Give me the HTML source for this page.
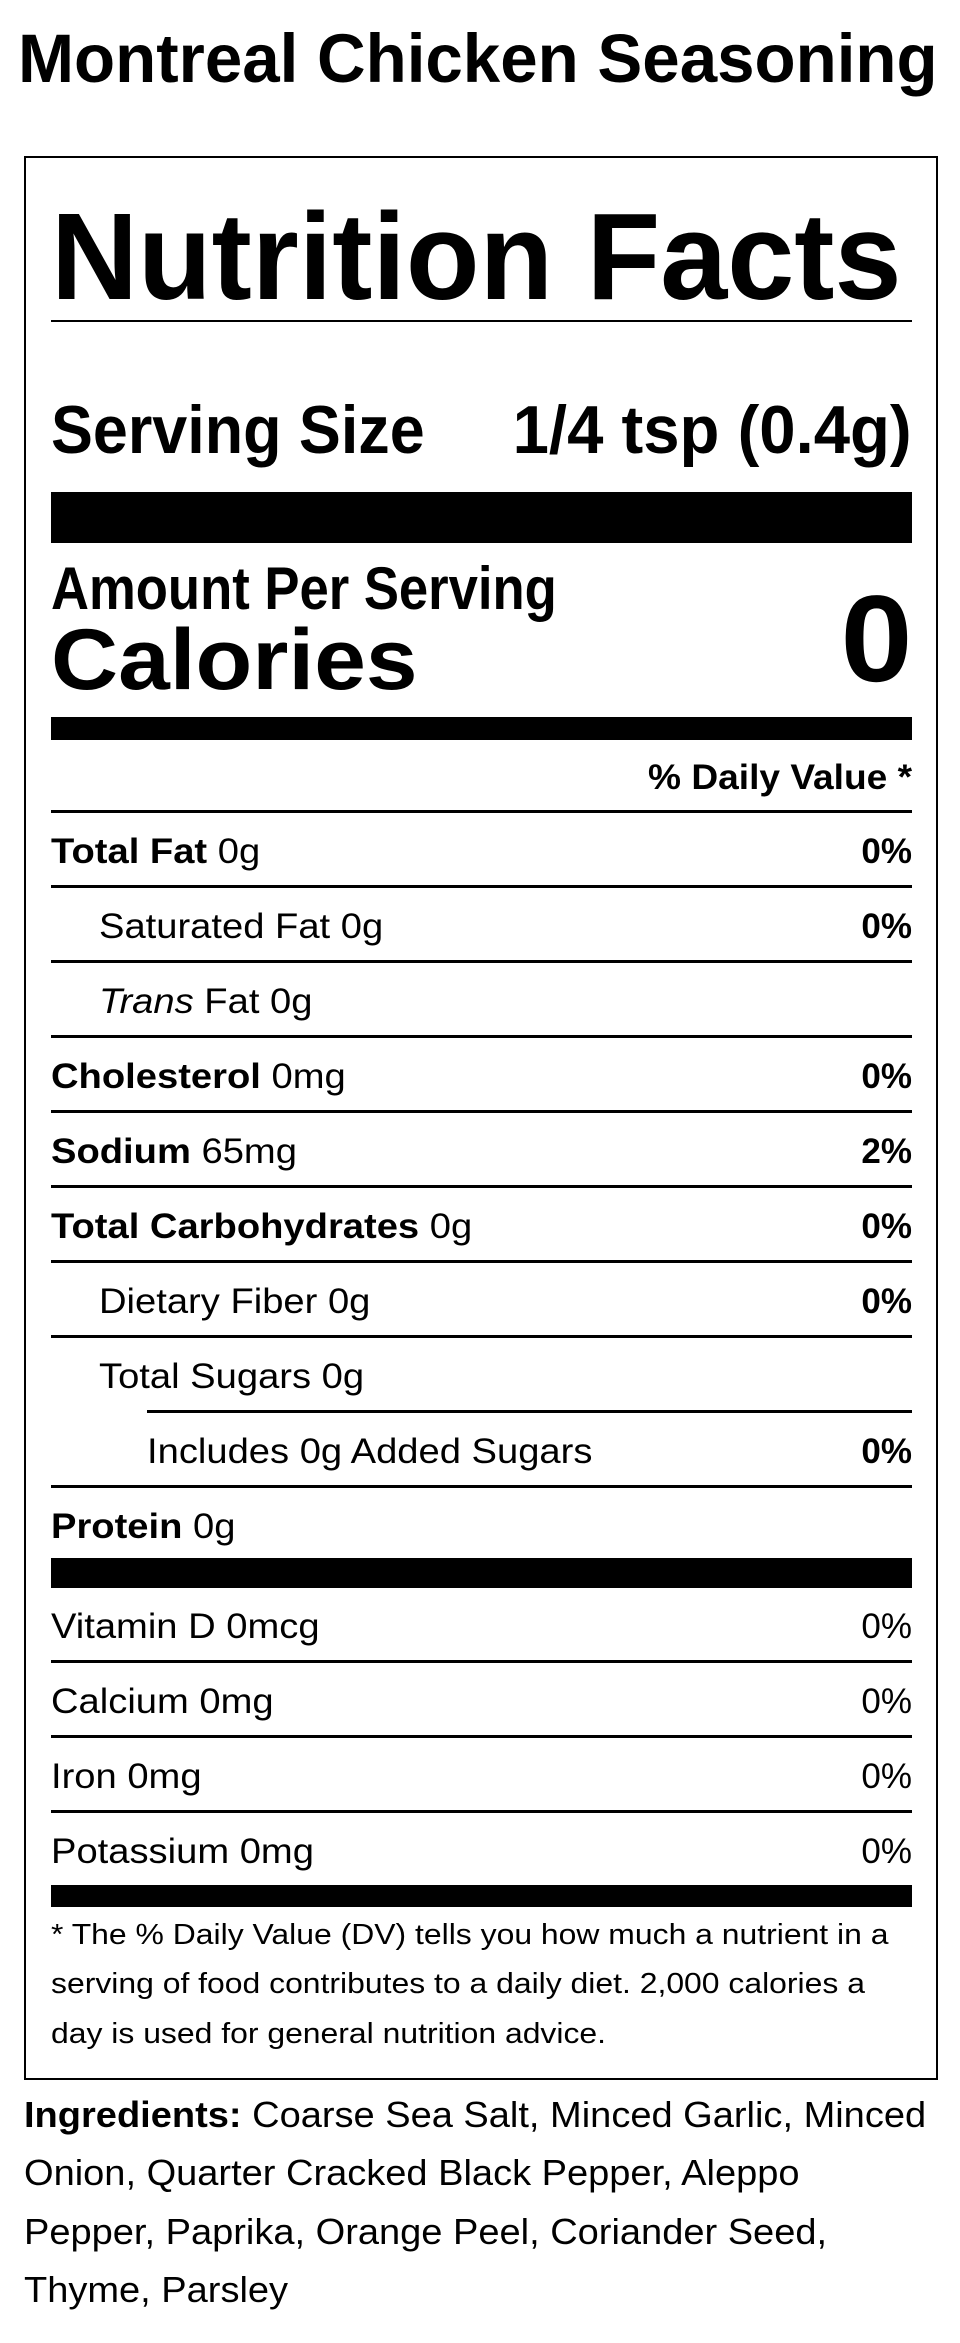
<!DOCTYPE html>
<html><head><meta charset="utf-8"><style>
*{margin:0;padding:0;box-sizing:border-box}
body{width:960px;height:2343px;background:#fff;position:relative;overflow:hidden;font-family:"Liberation Sans",Arial,sans-serif;color:#000}
.t{position:absolute;line-height:1;white-space:nowrap}
.b{font-weight:bold}
.r{right:48px;text-align:right}
.ln{position:absolute;left:51px;width:861px;height:3px;background:#000}
.bar{position:absolute;left:51px;width:861px;background:#000}
.sx{display:inline-block;transform-origin:0 0}
.sxr{display:inline-block;transform-origin:100% 0}
.row{display:inline-block;transform-origin:0 0;transform:scaleX(1.09)}
</style></head><body>
<div class="t b" style="left:18px;top:24px;font-size:69px"><span class="sx" style="transform:scaleX(0.975)">Montreal Chicken Seasoning</span></div>
<div style="position:absolute;left:24px;top:156px;width:914px;height:1924px;border:2px solid #000"></div>

<div class="t b" style="left:51px;top:196px;font-size:123px"><span class="sx" style="transform:scaleX(0.98)">Nutrition Facts</span></div>
<div class="bar" style="top:320px;height:2px"></div>

<div class="t b" style="left:51px;top:396px;font-size:68px"><span class="sx" style="transform:scaleX(0.924)">Serving Size</span></div>
<div class="t b r" style="top:396px;font-size:68px"><span class="sxr" style="transform:scaleX(0.96)">1/4 tsp (0.4g)</span></div>
<div class="bar" style="top:492px;height:51px"></div>

<div class="t b" style="left:51px;top:559px;font-size:60px"><span class="sx" style="transform:scaleX(0.877)">Amount Per Serving</span></div>
<div class="t b" style="left:51px;top:617px;font-size:86px"><span class="sx" style="transform:scaleX(1.08)">Calories</span></div>
<div class="t b r" style="top:578px;font-size:123px"><span class="sxr" style="transform:scaleX(1.05)">0</span></div>
<div class="bar" style="top:717px;height:23px"></div>

<div class="t b r" style="top:760px;font-size:35px"><span class="sxr" style="transform:scaleX(1.06)">% Daily Value *</span></div>
<div class="ln" style="top:810px"></div>

<div class="t" style="left:51px;top:834px;font-size:35px"><span class="row"><b>Total Fat</b> 0g</span></div><div class="t b r" style="top:834px;font-size:35px">0%</div>
<div class="ln" style="top:885px"></div>
<div class="t" style="left:99px;top:909px;font-size:35px"><span class="row">Saturated Fat 0g</span></div><div class="t b r" style="top:909px;font-size:35px">0%</div>
<div class="ln" style="top:960px"></div>
<div class="t" style="left:99px;top:984px;font-size:35px"><span class="row"><i>Trans</i> Fat 0g</span></div>
<div class="ln" style="top:1035px"></div>
<div class="t" style="left:51px;top:1059px;font-size:35px"><span class="row"><b>Cholesterol</b> 0mg</span></div><div class="t b r" style="top:1059px;font-size:35px">0%</div>
<div class="ln" style="top:1110px"></div>
<div class="t" style="left:51px;top:1134px;font-size:35px"><span class="row"><b>Sodium</b> 65mg</span></div><div class="t b r" style="top:1134px;font-size:35px">2%</div>
<div class="ln" style="top:1185px"></div>
<div class="t" style="left:51px;top:1209px;font-size:35px"><span class="row"><b>Total Carbohydrates</b> 0g</span></div><div class="t b r" style="top:1209px;font-size:35px">0%</div>
<div class="ln" style="top:1260px"></div>
<div class="t" style="left:99px;top:1284px;font-size:35px"><span class="row">Dietary Fiber 0g</span></div><div class="t b r" style="top:1284px;font-size:35px">0%</div>
<div class="ln" style="top:1335px"></div>
<div class="t" style="left:99px;top:1359px;font-size:35px"><span class="row">Total Sugars 0g</span></div>
<div class="ln" style="top:1410px;left:147px;width:765px"></div>
<div class="t" style="left:147px;top:1434px;font-size:35px"><span class="row">Includes 0g Added Sugars</span></div><div class="t b r" style="top:1434px;font-size:35px">0%</div>
<div class="ln" style="top:1485px"></div>
<div class="t" style="left:51px;top:1509px;font-size:35px"><span class="row"><b>Protein</b> 0g</span></div>
<div class="bar" style="top:1558px;height:30px"></div>

<div class="t" style="left:51px;top:1609px;font-size:35px"><span class="row">Vitamin D 0mcg</span></div><div class="t r" style="top:1609px;font-size:35px">0%</div>
<div class="ln" style="top:1660px"></div>
<div class="t" style="left:51px;top:1684px;font-size:35px"><span class="row">Calcium 0mg</span></div><div class="t r" style="top:1684px;font-size:35px">0%</div>
<div class="ln" style="top:1735px"></div>
<div class="t" style="left:51px;top:1759px;font-size:35px"><span class="row">Iron 0mg</span></div><div class="t r" style="top:1759px;font-size:35px">0%</div>
<div class="ln" style="top:1810px"></div>
<div class="t" style="left:51px;top:1834px;font-size:35px"><span class="row">Potassium 0mg</span></div><div class="t r" style="top:1834px;font-size:35px">0%</div>
<div class="bar" style="top:1885px;height:22px"></div>

<div class="t" style="left:51px;top:1921px;font-size:29px"><span class="sx" style="transform:scaleX(1.1)">* The % Daily Value (DV) tells you how much a nutrient in a</span></div>
<div class="t" style="left:51px;top:1970px;font-size:29px"><span class="sx" style="transform:scaleX(1.1)">serving of food contributes to a daily diet. 2,000 calories a</span></div>
<div class="t" style="left:51px;top:2020px;font-size:29px"><span class="sx" style="transform:scaleX(1.1)">day is used for general nutrition advice.</span></div>

<div class="t" style="left:24px;top:2097px;font-size:36px"><span class="sx" style="transform:scaleX(1.056)"><b>Ingredients:</b> Coarse Sea Salt, Minced Garlic, Minced</span></div>
<div class="t" style="left:24px;top:2155px;font-size:36px"><span class="sx" style="transform:scaleX(1.056)">Onion, Quarter Cracked Black Pepper, Aleppo</span></div>
<div class="t" style="left:24px;top:2214px;font-size:36px"><span class="sx" style="transform:scaleX(1.056)">Pepper, Paprika, Orange Peel, Coriander Seed,</span></div>
<div class="t" style="left:24px;top:2272px;font-size:36px"><span class="sx" style="transform:scaleX(1.056)">Thyme, Parsley</span></div>
</body></html>
